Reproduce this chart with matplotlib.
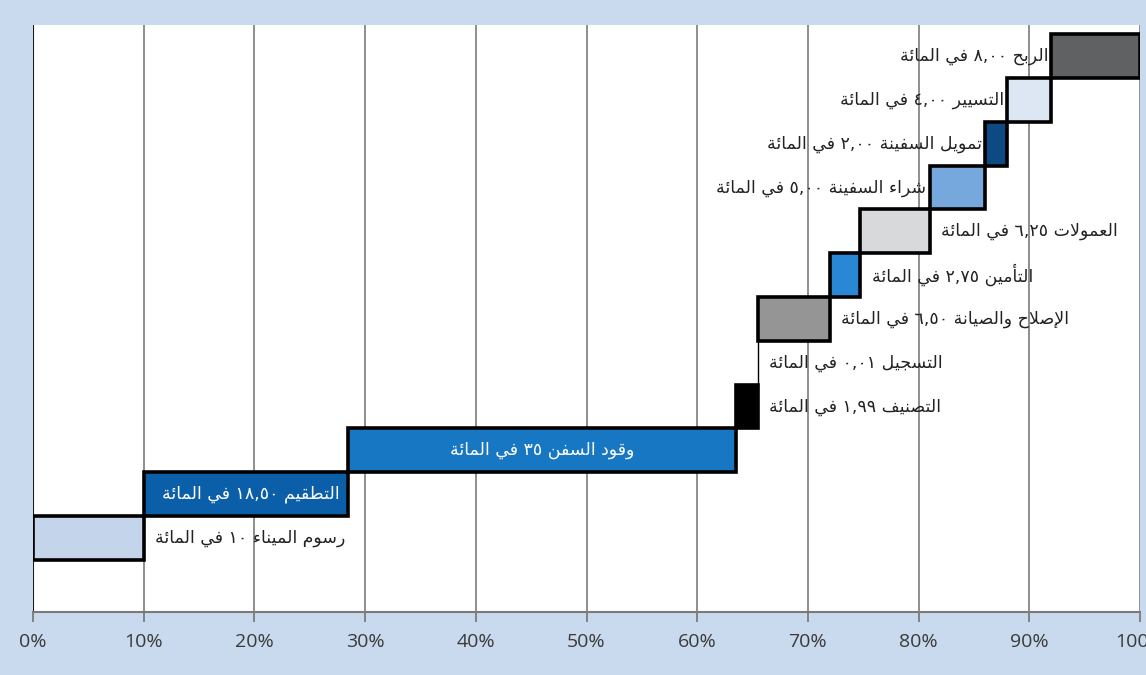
import re
import numpy as np
import matplotlib
matplotlib.use("Agg")
import matplotlib.pyplot as plt

# ---------------- data ----------------
labels = [
    "رسوم الميناء ١٠ في المائة",
    "التطقيم ١٨,٥٠ في المائة",
    "وقود السفن ٣٥ في المائة",
    "التصنيف ١,٩٩ في المائة",
    "التسجيل ٠,٠١ في المائة",
    "الإصلاح والصيانة ٦,٥٠ في المائة",
    "التأمين ٢,٧٥ في المائة",
    "العمولات ٦,٢٥ في المائة",
    "شراء السفينة ٥,٠٠ في المائة",
    "تمويل السفينة ٢,٠٠ في المائة",
    "التسيير ٤,٠٠ في المائة",
    "الربح ٨,٠٠ في المائة",
]
shares = [10.0, 18.5, 35.0, 1.99, 0.01, 6.5, 2.75, 6.25, 5.0, 2.0, 4.0, 8.0]
tick_values = [0, 10, 20, 30, 40, 50, 60, 70, 80, 90, 100]
tick_labels = ["0%", "10%", "20%", "30%", "40%", "50%", "60%", "70%", "80%", "90%", "100%"]

# ---------------- style ----------------
colors = ["#c3d4eb", "#0b5ea8", "#1777c2", "#000000", "#000000", "#959595",
          "#2a87d6", "#d8d9db", "#76a7dd", "#0d4a84", "#dde6f3", "#606163"]
label_modes = ["right", "inside_right", "center", "right", "right", "right",
               "right", "right", "left", "left", "left", "left"]

# ---------------- simple Arabic shaping for display ----------------
DUAL = {'ئ': 0xFE89, 'ب': 0xFE8F, 'ت': 0xFE95, 'ث': 0xFE99, 'ج': 0xFE9D, 'ح': 0xFEA1,
        'خ': 0xFEA5, 'س': 0xFEB1, 'ش': 0xFEB5, 'ص': 0xFEB9, 'ض': 0xFEBD, 'ط': 0xFEC1,
        'ظ': 0xFEC5, 'ع': 0xFEC9, 'غ': 0xFECD, 'ف': 0xFED1, 'ق': 0xFED5, 'ك': 0xFED9,
        'ل': 0xFEDD, 'م': 0xFEE1, 'ن': 0xFEE5, 'ه': 0xFEE9, 'ي': 0xFEF1}
RIGHT = {'آ': 0xFE81, 'أ': 0xFE83, 'ؤ': 0xFE85, 'إ': 0xFE87, 'ا': 0xFE8D, 'ة': 0xFE93,
         'د': 0xFEA9, 'ذ': 0xFEAB, 'ر': 0xFEAD, 'ز': 0xFEAF, 'و': 0xFEED, 'ى': 0xFEEF}
NONJ = {'ء': 0xFE80}
LAMALEF = {'آ': 0xFEF5, 'أ': 0xFEF7, 'إ': 0xFEF9, 'ا': 0xFEFB}


def shape_ar(s):
    out = []
    n = len(s)

    def joins_prev(k):
        return k > 0 and s[k - 1] in DUAL

    i = 0
    while i < n:
        c = s[i]
        if c == 'ل' and i + 1 < n and s[i + 1] in LAMALEF:
            b = LAMALEF[s[i + 1]]
            out.append(chr(b + 1 if joins_prev(i) else b))
            i += 2
            continue
        if c in DUAL:
            p = joins_prev(i)
            nx = i + 1 < n and (s[i + 1] in DUAL or s[i + 1] in RIGHT)
            b = DUAL[c]
            out.append(chr(b + 3 if (p and nx) else b + 1 if p else b + 2 if nx else b))
        elif c in RIGHT:
            out.append(chr(RIGHT[c] + 1 if joins_prev(i) else RIGHT[c]))
        elif c in NONJ:
            out.append(chr(NONJ[c]))
        else:
            out.append(c)
        i += 1
    vis = "".join(out)[::-1]
    vis = re.sub(r'[\u0660-\u06690-9][\u0660-\u06690-9,.]*', lambda m: m.group(0)[::-1], vis)
    return vis


# ---------------- figure ----------------
bg = "#c9d9ee"
fig = plt.figure(figsize=(11.46, 6.75), dpi=100, facecolor=bg)
ax = fig.add_axes([33 / 1146, 1 - 612 / 675, (1140 - 33) / 1146, (612 - 25) / 675])
ax.set_facecolor("white")

starts = np.concatenate([[0], np.cumsum(shares)[:-1]])
ys = np.arange(len(shares))

for i, (st, w, c) in enumerate(zip(starts, shares, colors)):
    lw = 1.0 if w < 0.1 else 2.6
    ax.barh(ys[i], w, left=st, height=1.0, color=c, edgecolor="black",
            linewidth=lw, zorder=3)

ax.set_xlim(0, 100)
ax.set_ylim(-1.69, 11.71)

# grid lines
for v in tick_values[1:]:
    ax.axvline(v, color="#7c7c7c", lw=1.2, zorder=1)
ax.axvline(0, color="#1a1a1a", lw=1.5, zorder=1)

for s in ["top", "left", "right"]:
    ax.spines[s].set_visible(False)
ax.spines["bottom"].set_color("#7a7a7a")
ax.spines["bottom"].set_linewidth(1.5)

ax.set_yticks([])
ax.set_xticks(tick_values)
ax.set_xticklabels(tick_labels, fontfamily="Open Sans", fontsize=14, color="#3a3a3a")
ax.tick_params(axis="x", direction="out", length=7, width=1.3, color="#7a7a7a", pad=8)

# labels
for i, (lab, st, w, mode) in enumerate(zip(labels, starts, shares, label_modes)):
    txt = shape_ar(lab)
    kw = dict(fontfamily="DejaVu Sans", fontsize=12.5, va="center", zorder=5)
    if mode == "right":
        ax.text(st + w + 1.0, ys[i], txt, ha="left", color="#222222", **kw)
    elif mode == "left":
        ax.text(st - 0.3, ys[i], txt, ha="right", color="#222222", **kw)
    elif mode == "inside_right":
        ax.text(st + w - 0.8, ys[i], txt, ha="right", color="white", **kw)
    else:
        ax.text(st + w / 2, ys[i], txt, ha="center", color="white", **kw)

fig.savefig("out.png", dpi=100, facecolor=bg)
